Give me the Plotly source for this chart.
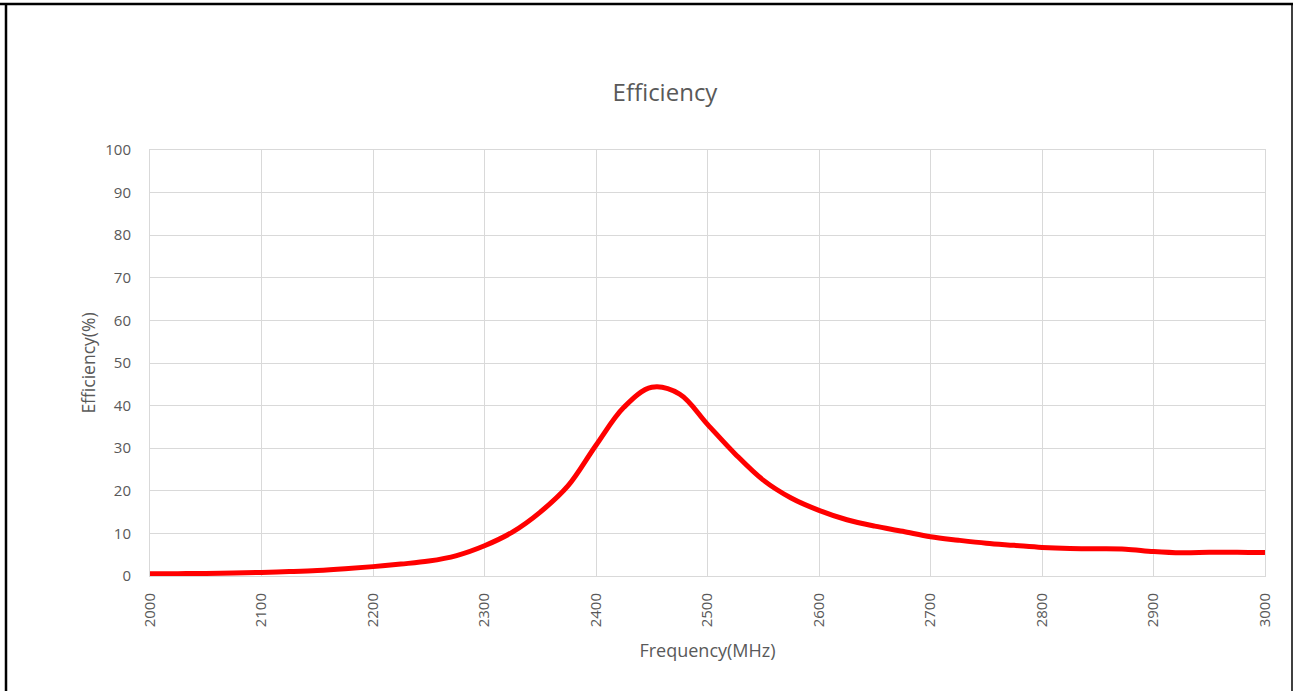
import plotly.graph_objects as go

freq_mhz = [2000, 2025, 2050, 2075, 2100, 2125, 2150, 2175, 2200, 2225, 2250, 2275,
            2300, 2325, 2350, 2375, 2400, 2425, 2450, 2475, 2500, 2525, 2550, 2575,
            2600, 2625, 2650, 2675, 2700, 2725, 2750, 2775, 2800, 2825, 2850, 2875,
            2900, 2925, 2950, 2975, 3000]
efficiency_pct = [0.5, 0.55, 0.6, 0.7, 0.85, 1.05, 1.3, 1.7, 2.2, 2.8, 3.5, 4.8,
                  7.1, 10.3, 15.0, 21.2, 30.7, 39.6, 44.3, 42.7, 35.6, 28.6, 22.5, 18.3,
                  15.4, 13.2, 11.7, 10.5, 9.2, 8.4, 7.7, 7.2, 6.7, 6.45, 6.4, 6.3,
                  5.75, 5.45, 5.55, 5.6, 5.5]
x_ticks = [2000, 2100, 2200, 2300, 2400, 2500, 2600, 2700, 2800, 2900, 3000]
y_ticks = [0, 10, 20, 30, 40, 50, 60, 70, 80, 90, 100]

W, H = 1293, 691
L, R, T, B = 150, 28, 150, 115
pw, ph = W - L - R, H - T - B

def px_x(p):
    return (p - L) / pw

def px_y(p):
    return (H - B - p) / ph

fig = go.Figure()
fig.add_trace(go.Scatter(
    x=freq_mhz, y=efficiency_pct, mode="lines",
    line=dict(color="#ff0000", width=5, shape="spline", smoothing=1.0),
    showlegend=False, hoverinfo="x+y",
))

font_family = "Open Sans, sans-serif"
grey = "#595959"
fig.update_layout(
    width=W, height=H,
    margin=dict(l=L, r=R, t=T, b=B),
    paper_bgcolor="white", plot_bgcolor="white",
    font=dict(family=font_family, color=grey, size=15),
    title=dict(text="Efficiency", x=665 / W, xanchor="center",
               y=1 - 93 / H, yanchor="middle", yref="container",
               font=dict(size=24, color=grey, family=font_family)),
    xaxis=dict(range=[2000, 3000], tickvals=x_ticks, ticktext=[str(v) for v in x_ticks],
               tickangle=-90, showgrid=True, gridcolor="#d9d9d9", gridwidth=1,
               showline=True, linecolor="#d9d9d9", linewidth=1, zeroline=False,
               ticks="", ticklabelstandoff=10, tickfont=dict(size=15, color=grey),
               title=dict(text="Frequency(MHz)", font=dict(size=18, color=grey), standoff=18),
               mirror=True),
    yaxis=dict(range=[0, 100], tickvals=y_ticks, showgrid=True, gridcolor="#d9d9d9",
               gridwidth=1, showline=True, linecolor="#d9d9d9", linewidth=1,
               zeroline=False, ticks="", ticklabelstandoff=15, tickfont=dict(size=15, color=grey),
               title=dict(text="Efficiency(%)", font=dict(size=17.5, color=grey), standoff=5),
               mirror=True),
)

# outer frame (top, left, right edges)
fig.add_shape(type="line", xref="paper", yref="paper",
              x0=px_x(0), x1=px_x(1293), y0=px_y(4), y1=px_y(4),
              line=dict(color="black", width=2.5))
fig.add_shape(type="line", xref="paper", yref="paper",
              x0=px_x(6), x1=px_x(6), y0=px_y(3), y1=px_y(700),
              line=dict(color="black", width=2.5))
fig.add_shape(type="line", xref="paper", yref="paper",
              x0=px_x(1292), x1=px_x(1292), y0=px_y(3), y1=px_y(700),
              line=dict(color="black", width=1.5))

fig.write_html("out.html", config={"displayModeBar": False},
               post_script="document.body.style.margin='0';document.body.style.padding='0';")
